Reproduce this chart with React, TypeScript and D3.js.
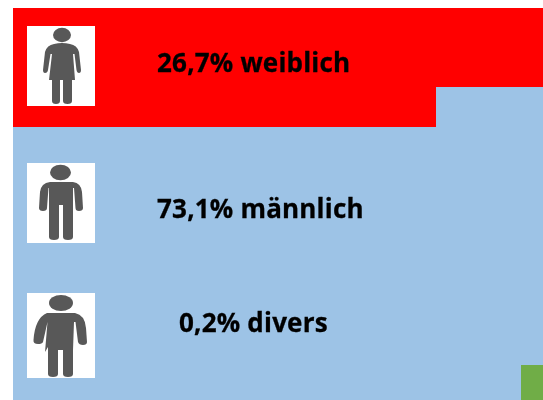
import React from "react";
import * as d3 from "d3";

const categories = ["weiblich", "männlich", "divers"];
const percentLabels = ["26,7%", "73,1%", "0,2%"];
const cellCounts = [19, 50, 1];
const cellColors = ["#ff0000", "#9dc3e6", "#70ad47"];

const columnCount = 7;
const rowCount = 10;

const x = d3.scaleBand<number>().domain(d3.range(columnCount)).range([13, 13 + 84.6 * columnCount]);
const y = d3.scaleBand<number>().domain(d3.range(rowCount)).range([8, 8 + 39.72 * rowCount]);

const cells = categories.flatMap((c, i) => d3.range(cellCounts[i]).map(() => i));

const legendLayout = [
  { box: [27, 26, 68, 80], textX: 157, textY: 72 },
  { box: [27, 163, 68, 80], textX: 157, textY: 218 },
  { box: [27, 293, 68, 85], textX: 179, textY: 332 },
];

const iconPaths = [
  // female
  `M54 44 Q62 42 70 44 Q77 45 79 52 L81 70 Q81 73 79 73 Q77 73 76.5 70 L74.5 54 L73 54 L75 80 L72 80 L72 101 Q72 104 67.5 104 Q63 104 63 101 L63 80 L60 80 L60 101 Q60 104 56 104 Q52 104 52 101 L52 80 L49 80 L52 54 L50.5 54 L48 70 Q47.5 73 45 73 Q43 73 43 70 L45 52 Q47 45 54 44 Z`,
  // male
  `M50 182 L73 182 Q81 183 82 192 L83 208 Q83 211 79 211 Q75.5 211 75.5 208 L74 188 L73 188 L73 237 Q73 240 68 240 Q63 240 63 237 L63 205 L59 205 L59 237 Q59 240 54 240 Q49 240 49 237 L49 188 L48.5 188 L47 208 Q47 211 43 211 Q39 211 39 208 L40 192 Q41 183 50 182 Z`,
  // divers
  `M47 313 L75 313 Q85 315 86 328 L87 342 Q87 345 83 345 Q79 345 78 342 L75.5 322 L74 322 L73 350 L73 374 Q73 377 68 377 Q63 377 63 374 L63 350 L58 350 L58 374 Q58 377 53 377 Q48 377 48 374 L48 347 L45 352 L47.5 322 L43 342 Q42 344 38 344 Q33 344 33.5 340 Q35 318 47 313 Z`,
];
const iconHeads = [
  [62, 35, 9, 7.2],
  [60.5, 172.5, 10.5, 7.7],
  [61, 303, 12, 8],
];

export default function App() {
  return (
    <svg width={543} height={400} style={{ position: "absolute", left: 0, top: 0, background: "#fff" }}>
      <defs>
        <filter id="soft" x="-10%" y="-10%" width="120%" height="120%">
          <feGaussianBlur stdDeviation="0.7" />
        </filter>
        <filter id="softText" x="-5%" y="-20%" width="110%" height="140%">
          <feGaussianBlur stdDeviation="0.4" />
        </filter>
        <filter id="softCells" filterUnits="userSpaceOnUse" x="0" y="0" width="640" height="420">
          <feGaussianBlur stdDeviation="0.5" />
        </filter>
      </defs>
      <g filter="url(#softCells)">
        {cells.map((cat, i) => (
          <rect
            key={i}
            x={x(i % columnCount)}
            y={y(Math.floor(i / columnCount))}
            width={x.bandwidth()}
            height={y.bandwidth()}
            fill={cellColors[cat]}
            shapeRendering="crispEdges"
          />
        ))}
      </g>
      {categories.map((c, i) => {
        const l = legendLayout[i];
        const h = iconHeads[i];
        return (
          <g key={c}>
            <rect x={l.box[0]} y={l.box[1]} width={l.box[2]} height={l.box[3]} fill="#fff" />
            <g fill="#595959" filter="url(#soft)">
              <ellipse cx={h[0]} cy={h[1]} rx={h[2]} ry={h[3]} />
              <path d={iconPaths[i]} />
            </g>
            <text
              x={l.textX}
              y={l.textY}
              fontFamily="'Open Sans', 'Noto Sans', sans-serif"
              fontWeight={700}
              fontSize={26}
              letterSpacing={0.2}
              stroke="#000"
              strokeWidth={0.3}
              fill="#000"
              filter="url(#softText)"
            >
              {percentLabels[i]} {c}
            </text>
          </g>
        );
      })}
    </svg>
  );
}
